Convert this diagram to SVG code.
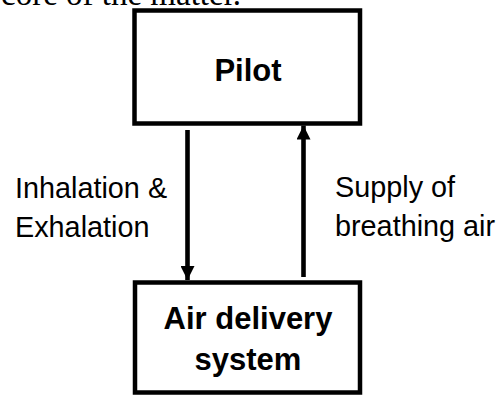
<svg xmlns="http://www.w3.org/2000/svg" width="499" height="395" viewBox="0 0 499 395">
  <defs>
    <style>
      .box { fill: #ffffff; stroke: #000000; stroke-width: 4.5; }
      .title { font-family: "Liberation Sans", Arial, sans-serif; font-weight: bold; font-size: 31px; fill: #000000; text-anchor: middle; }
      .label { font-family: "Liberation Sans", Arial, sans-serif; font-size: 28.8px; fill: #000000; }
      .body { font-family: "Liberation Serif", "Times New Roman", serif; font-size: 33px; fill: #000000; }
      .flow { stroke: #000000; stroke-width: 4.6; fill: none; }
    </style>
    <marker id="head" viewBox="0 0 14 14" refX="14" refY="7" markerWidth="14" markerHeight="14" markerUnits="userSpaceOnUse" orient="auto">
      <path d="M0,0 L14,7 L0,14 Z" fill="#000000"/>
    </marker>
  </defs>

  <rect width="499" height="395" fill="#ffffff"/>

  <!-- running text line above the figure -->
  <text class="body" x="1" y="5">core of the matter.</text>

  <g id="pilot">
    <rect class="box" x="134.5" y="10.5" width="225.5" height="113"/>
    <text class="title" x="248" y="81">Pilot</text>
  </g>

  <g id="air-delivery-system">
    <rect class="box" x="135" y="282.5" width="225" height="110"/>
    <text class="title" x="248" y="329">Air delivery</text>
    <text class="title" x="248" y="370">system</text>
  </g>

  <g id="connectors">
    <line class="flow" x1="187.5" y1="130" x2="187.5" y2="280" marker-end="url(#head)"/>
    <line class="flow" x1="303.5" y1="277" x2="303.5" y2="125.5" marker-end="url(#head)"/>
  </g>

  <g id="labels">
    <text class="label" x="15" y="198">Inhalation &amp;</text>
    <text class="label" x="15" y="237">Exhalation</text>
    <text class="label" x="335" y="197">Supply of</text>
    <text class="label" x="335" y="236">breathing air</text>
  </g>
</svg>
